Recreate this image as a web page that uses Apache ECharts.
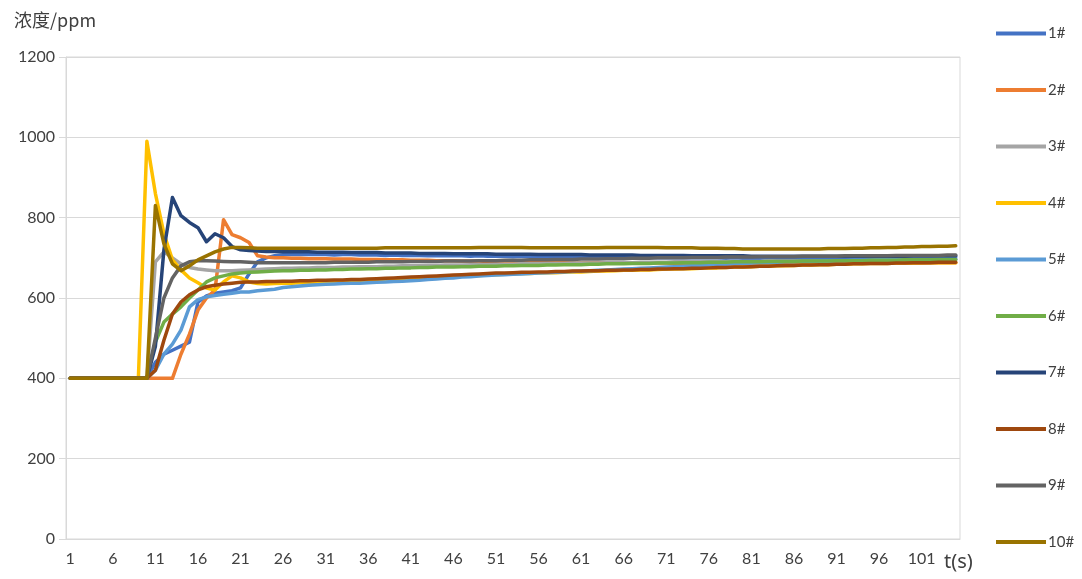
<!DOCTYPE html>
<html>
<head>
<meta charset="utf-8">
<script src="https://cdn.jsdelivr.net/npm/echarts@6/dist/echarts.min.js"></script>
<style>
html,body{margin:0;padding:0;background:#fff;}
#c{width:1082px;height:579px;}
</style>
</head>
<body>
<div id="c"></div>
<script>
// categories: time in seconds 1..105
const categories = [];
for (let i = 1; i <= 105; i++) categories.push(String(i));

const seriesNames = ['1#','2#','3#','4#','5#','6#','7#','8#','9#','10#'];
const seriesColors = ['#4472C4','#ED7D31','#A5A5A5','#FFC000','#5B9BD5','#70AD47','#264478','#9E480E','#636363','#997300'];

const s1 = [400,400,400,400,400,400,400,400,400,400,
 440,460,470,480,490,590,605,612,615,618,625,660,690,700,705,
 708,708,709,708,708,708,707,708,708,707,
 707,707,706,707,706,706,706,705,706,705,
 705,705,704,705,704,704,704,703,704,703,
 703,703,703,702,703,702,702,702,702,701,
 701,701,701,701,700,701,700,700,700,700,
 700,700,699,700,699,699,699,700,699,699,
 699,699,699,700,699,699,700,700,700,700,
 700,700,701,700,701,701,701,701,702,702];
const s2 = [400,400,400,400,400,400,400,400,400,400,400,400,400,
 460,510,570,600,620,795,758,750,738,705,702,700,
 700,699,699,698,698,698,697,697,697,696,
 696,696,695,695,695,694,694,694,693,693,
 693,692,692,692,691,691,691,690,690,690,
 690,689,689,689,689,688,688,688,688,688,
 687,687,687,687,687,687,686,686,686,686,
 686,686,686,686,686,686,686,686,686,686,
 686,686,686,686,686,686,686,687,687,687,
 687,687,687,687,687,687,688,688,688,688];
const s3 = [400,400,400,400,400,400,400,400,400,400,
 690,715,700,685,676,672,670,668,668,668,669,670,671,672,673,
 674,674,675,675,676,676,676,677,677,678,
 678,678,679,679,680,680,680,681,681,682,
 682,682,683,683,683,684,684,684,685,685,
 685,686,686,686,687,687,687,687,688,688,
 688,688,689,689,689,689,690,690,690,690,
 690,690,691,691,691,691,691,692,692,692,
 692,692,692,692,693,693,693,693,693,693,
 694,694,694,694,694,694,695,695,695,695];
const s4 = [400,400,400,400,400,400,400,400,400,
 990,860,760,695,670,650,638,625,620,640,655,650,640,636,635,636,
 637,637,638,638,639,640,640,641,642,642,
 643,644,645,646,647,648,649,650,651,652,
 653,654,655,656,657,658,659,660,661,661,
 662,663,663,664,665,665,666,667,667,668,
 669,669,670,670,671,672,672,673,673,674,
 675,675,676,677,677,678,679,679,680,680,
 681,682,682,683,683,684,684,685,685,686,
 686,686,687,687,687,688,688,688,688,688];
const s5 = [400,400,400,400,400,400,400,400,400,400,
 420,460,485,520,578,596,603,606,609,612,615,615,618,620,622,
 626,628,630,632,633,634,635,636,637,637,
 638,639,640,641,642,643,644,646,647,649,
 650,652,653,655,656,657,658,659,660,661,
 662,663,664,665,666,667,668,669,670,671,
 672,673,674,675,676,677,678,679,680,681,
 682,683,684,685,686,687,688,688,689,690,
 690,691,691,692,692,693,693,694,694,694,
 695,695,695,696,696,696,696,697,697,697];
const s6 = [400,400,400,400,400,400,400,400,400,400,
 490,540,560,578,600,620,640,650,655,660,662,664,665,666,667,
 668,668,669,669,670,670,671,671,672,672,
 673,673,674,674,675,675,676,676,677,677,
 677,678,678,679,679,679,680,680,681,681,
 681,682,682,683,683,683,684,684,685,685,
 685,686,686,686,687,687,687,688,688,688,
 689,689,689,690,690,690,690,691,691,691,
 691,692,692,692,692,693,693,693,693,694,
 694,694,694,695,695,695,695,696,696,696];
const s7 = [400,400,400,400,400,400,400,400,400,400,
 480,720,850,805,788,775,740,760,750,728,720,718,717,716,716,
 715,715,715,715,714,714,714,714,713,713,
 713,713,712,712,712,712,711,711,711,711,
 710,710,710,710,710,709,709,709,709,709,
 708,708,708,708,708,708,707,707,707,707,
 707,707,706,706,706,706,706,706,705,705,
 705,705,705,705,705,704,704,704,704,704,
 704,704,704,704,704,704,704,704,704,704,
 704,704,704,704,705,705,705,705,705,705];
const s8 = [400,400,400,400,400,400,400,400,400,400,
 420,495,560,590,608,620,628,632,635,637,639,640,640,641,641,
 642,642,643,643,644,644,645,645,646,646,
 647,648,649,650,651,652,653,654,655,656,
 657,658,659,660,661,662,662,663,664,664,
 665,665,666,666,667,667,668,668,669,669,
 670,670,671,671,672,672,673,673,674,674,
 675,676,676,677,677,678,679,679,680,681,
 681,682,682,683,683,684,684,685,685,686,
 686,686,687,687,688,688,688,689,689,689];
const s9 = [400,400,400,400,400,400,400,400,400,400,
 500,600,650,680,690,693,693,692,691,690,690,689,688,688,688,
 688,688,688,688,688,688,689,689,689,689,
 689,690,690,690,690,691,691,691,691,692,
 692,692,692,693,693,693,694,694,694,695,
 695,695,696,696,696,697,697,697,698,698,
 698,699,699,699,700,700,700,700,701,701,
 701,701,702,702,702,702,703,703,703,703,
 703,704,704,704,704,704,705,705,705,705,
 705,705,706,706,706,706,706,706,707,707];
const s10 = [400,400,400,400,400,400,400,400,400,400,
 830,735,685,668,680,695,705,715,722,726,726,725,724,724,724,
 724,724,724,724,724,724,724,724,724,724,
 724,724,725,725,725,725,725,725,725,725,
 725,725,725,726,726,726,726,726,726,725,
 725,725,725,725,725,725,725,725,726,726,
 726,726,726,726,726,725,725,725,725,724,
 724,724,723,723,722,722,722,722,722,722,
 722,722,722,722,723,723,723,724,724,725,
 725,726,726,727,727,728,728,729,729,730];

const seriesValues = [s1,s2,s3,s4,s5,s6,s7,s8,s9,s10];

const chart = echarts.init(document.getElementById('c'), null, {renderer:'canvas'});
const font = 'Lato, "Open Sans", "Noto Sans", sans-serif';
chart.setOption({
  animation: false,
  backgroundColor: '#ffffff',
  title: {
    text: '浓度/ppm',
    left: 9, top: 6,
    textStyle: {fontFamily: '"Noto Sans CJK SC", "Noto Sans", sans-serif', fontSize: 18, fontWeight: 'normal', color: '#404040'}
  },
  graphic: [{
    type: 'text', left: 944, top: 552,
    style: {text: 't(s)', fontFamily: '"Noto Sans", "DejaVu Sans", sans-serif', fontSize: 20, fill: '#404040'}
  }],
  legend: {
    orient: 'vertical',
    left: 991, top: 21,
    itemWidth: 50, itemHeight: 14, itemGap: 41.5,
    icon: 'path://M0,0L52,0L52,4L0,4Z',
    itemStyle: {borderWidth: 0},
    textStyle: {fontFamily: font, fontSize: 15, color: '#404040', padding: [0, 0, 0, -3]},
    data: seriesNames
  },
  grid: {left: 66, right: 122, top: 57, bottom: 40, show: true, borderColor: '#d9d9d9', borderWidth: 1},
  xAxis: {
    type: 'category',
    data: categories,
    boundaryGap: true,
    axisLine: {lineStyle: {color: '#d9d9d9', width: 1}},
    axisTick: {show: false},
    axisLabel: {interval: 4, margin: 12, fontFamily: font, fontSize: 16, color: '#404040'},
    splitLine: {show: false}
  },
  yAxis: {
    type: 'value',
    min: 0, max: 1200, interval: 200,
    axisLine: {show: true, lineStyle: {color: '#d9d9d9'}},
    axisTick: {show: true, length: 7, lineStyle: {color: '#d9d9d9'}},
    axisLabel: {margin: 11, fontFamily: font, fontSize: 16, color: '#404040', formatter: v => String(v)},
    splitLine: {lineStyle: {color: '#d9d9d9', width: 1}}
  },
  series: seriesNames.map((n, i) => ({
    name: n,
    type: 'line',
    data: seriesValues[i],
    symbol: 'none',
    showSymbol: false,
    color: seriesColors[i],
    lineStyle: {width: 3.5, color: seriesColors[i], join: 'round', cap: 'round'},
    emphasis: {disabled: true}
  }))
});
</script>
</body>
</html>
